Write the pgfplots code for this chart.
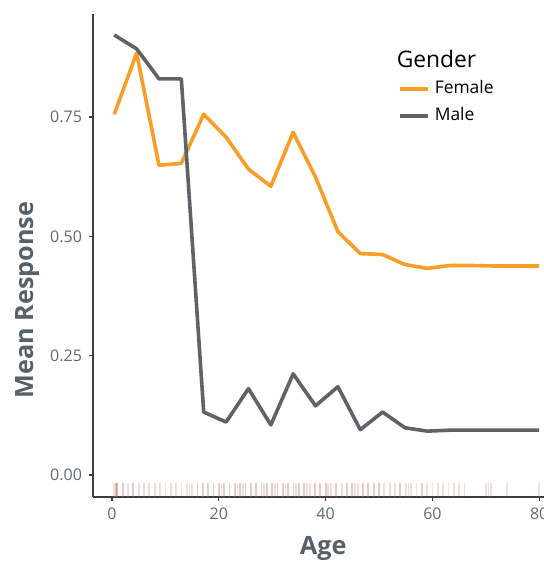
\documentclass[border=0pt]{standalone}
\usepackage{pgfplots}
\pgfplotsset{compat=1.18}
\usepackage{fontspec}
\setmainfont{Open Sans}
\definecolor{femc}{RGB}{248,157,38}
\definecolor{malec}{RGB}{95,99,104}
\definecolor{rugc}{RGB}{195,110,90}
\definecolor{labc}{RGB}{86,97,107}
\definecolor{tickc}{RGB}{95,106,116}
\definecolor{axc}{RGB}{60,60,60}
\begin{document}
\begin{tikzpicture}
\begin{axis}[
  at={(0,0)}, anchor=south west,
  scale only axis, width=233.75pt, height=241.5pt,
  xmin=-3.56, xmax=83.98, ymin=-0.046, ymax=0.966,
  axis lines=left, axis line style={-, axc, line width=0.9pt},
  tick align=outside, major tick length=2pt,
  tick style={axc, line width=0.6pt},
  xtick={0,20,40,60,80}, ytick={0,0.25,0.5,0.75},
  /pgf/number format/assume math mode=true,
  yticklabel style={/pgf/number format/fixed, /pgf/number format/fixed zerofill, /pgf/number format/precision=2, font=\fontsize{8}{9.6}\selectfont, text=tickc},
  xticklabel style={font=\fontsize{8}{9.6}\selectfont, text=tickc},
  xlabel={Age}, ylabel={Mean Response},
  xlabel style={font=\bfseries\fontsize{12.6}{15}\selectfont, text=labc, at={(axis description cs:0.4925,-0.1056)}, anchor=center},
  ylabel style={font=\bfseries\fontsize{12.6}{15}\selectfont, text=labc, at={(axis description cs:-0.139,0.408)}, anchor=center},
  legend style={draw=none, fill=none, at={(axis description cs:0.652,0.871)}, anchor=north west,
    font=\fontsize{8.7}{10}\selectfont, row sep=1.4pt, column sep=0.5pt, inner sep=0pt, text=black},
  legend cell align=left,
  legend image code/.code={\draw[#1] (0pt,0pt) -- (14pt,0pt);},
]
\addplot[only marks, mark=|, mark size=3.62pt, mark options={line width=0.9pt}, color=rugc, opacity=0.22, forget plot] coordinates {
(0.42,-0.0308)(0.67,-0.0308)(0.75,-0.0308)(0.83,-0.0308)(0.92,-0.0308)
(1,-0.0308)(2,-0.0308)(3,-0.0308)(4,-0.0308)(5,-0.0308)(6,-0.0308)(7,-0.0308)(8,-0.0308)(9,-0.0308)(10,-0.0308)
(11,-0.0308)(12,-0.0308)(13,-0.0308)(14,-0.0308)(14.5,-0.0308)(15,-0.0308)(16,-0.0308)(17,-0.0308)(18,-0.0308)(19,-0.0308)(20,-0.0308)
(20.5,-0.0308)(21,-0.0308)(22,-0.0308)(23,-0.0308)(23.5,-0.0308)(24,-0.0308)(24.5,-0.0308)(25,-0.0308)(26,-0.0308)(27,-0.0308)(28,-0.0308)
(28.5,-0.0308)(29,-0.0308)(30,-0.0308)(30.5,-0.0308)(31,-0.0308)(32,-0.0308)(32.5,-0.0308)(33,-0.0308)(34,-0.0308)(34.5,-0.0308)(35,-0.0308)
(36,-0.0308)(36.5,-0.0308)(37,-0.0308)(38,-0.0308)(39,-0.0308)(40,-0.0308)(40.5,-0.0308)(41,-0.0308)(42,-0.0308)(43,-0.0308)(44,-0.0308)
(45,-0.0308)(45.5,-0.0308)(46,-0.0308)(47,-0.0308)(48,-0.0308)(49,-0.0308)(50,-0.0308)(51,-0.0308)(52,-0.0308)(53,-0.0308)(54,-0.0308)
(55,-0.0308)(55.5,-0.0308)(56,-0.0308)(57,-0.0308)(58,-0.0308)(59,-0.0308)(60,-0.0308)(61,-0.0308)(62,-0.0308)(63,-0.0308)(64,-0.0308)
(65,-0.0308)(66,-0.0308)(70,-0.0308)(70.5,-0.0308)(71,-0.0308)(74,-0.0308)(80,-0.0308)
};
\addplot[only marks, mark=|, mark size=3.62pt, mark options={line width=0.9pt}, color=rugc, opacity=0.18, forget plot] coordinates {
(1,-0.0308)(2,-0.0308)(4,-0.0308)(16,-0.0308)(17,-0.0308)(18,-0.0308)(19,-0.0308)(20,-0.0308)(21,-0.0308)(22,-0.0308)(23,-0.0308)(24,-0.0308)
(25,-0.0308)(26,-0.0308)(27,-0.0308)(28,-0.0308)(29,-0.0308)(30,-0.0308)(31,-0.0308)(32,-0.0308)(33,-0.0308)(34,-0.0308)(35,-0.0308)(36,-0.0308)
(38,-0.0308)(39,-0.0308)(40,-0.0308)(42,-0.0308)(44,-0.0308)(45,-0.0308)(47,-0.0308)(48,-0.0308)(49,-0.0308)(50,-0.0308)(54,-0.0308)(58,-0.0308)
};
\addplot[femc, line width=1.8pt, line join=round] coordinates {
(0.42,0.756)(4.61,0.884)(8.80,0.649)(12.98,0.653)(17.17,0.756)(21.36,0.708)(25.55,0.641)(29.74,0.605)(33.92,0.718)(38.11,0.624)
(42.30,0.510)(46.49,0.464)(50.67,0.462)(54.86,0.441)(59.05,0.433)(63.24,0.439)(67.43,0.439)(71.62,0.438)(75.81,0.438)(80.00,0.438)
};
\addlegendentry{Female}
\addplot[malec, line width=1.8pt, line join=round] coordinates {
(0.42,0.922)(4.61,0.893)(8.80,0.830)(12.98,0.830)(17.17,0.132)(21.36,0.111)(25.55,0.181)(29.74,0.105)(33.92,0.212)(38.11,0.145)
(42.30,0.185)(46.49,0.095)(50.67,0.132)(54.86,0.099)(59.05,0.092)(63.24,0.094)(67.43,0.094)(71.62,0.094)(75.81,0.094)(80.00,0.094)
};
\addlegendentry{Male}
\node[anchor=base west, inner sep=0pt, font=\fontsize{11.4}{13}\selectfont, text=black] at (axis description cs:0.649,0.890) {Gender};
\end{axis}
\pgfresetboundingbox
\path (-46.5pt,-32.5pt) rectangle (225.5pt,248.5pt);
\end{tikzpicture}
\end{document}
